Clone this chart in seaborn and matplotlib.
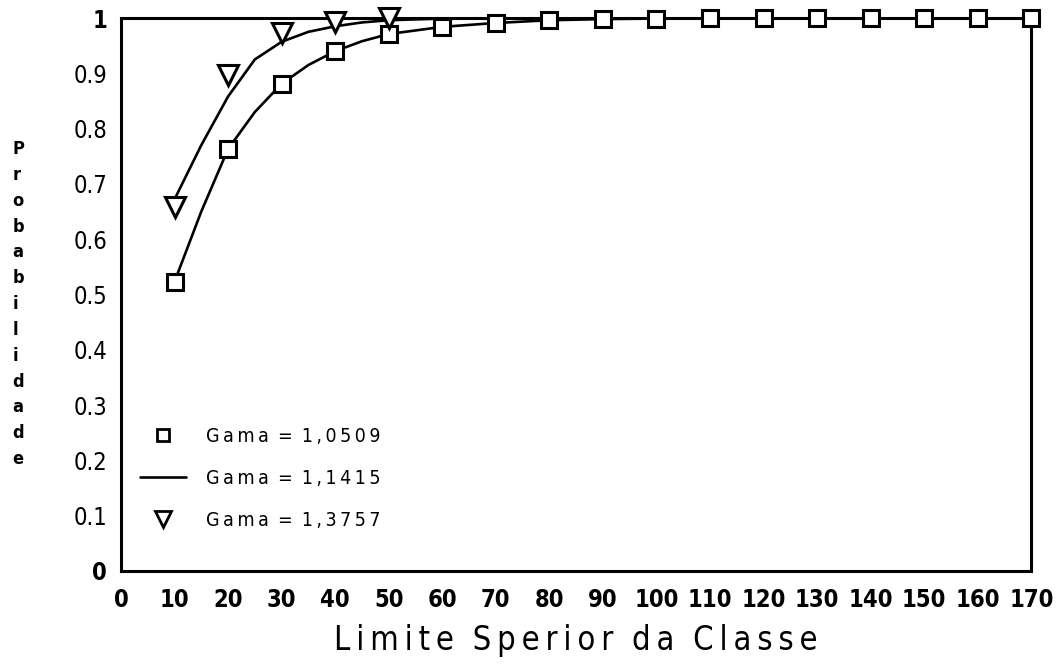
import matplotlib
matplotlib.use("Agg")
import matplotlib.pyplot as plt
import seaborn as sns
import pandas as pd
from matplotlib.lines import Line2D

# class upper limits and probabilities
x_classes = [10, 20, 30, 40, 50, 60, 70, 80, 90, 100, 110, 120, 130, 140, 150, 160, 170]
p_gama_10509 = [0.523, 0.763, 0.881, 0.940, 0.971, 0.984, 0.991, 0.996, 0.998, 0.999,
                1.0, 1.0, 1.0, 1.0, 1.0, 1.0, 1.0]

x_tri = [10, 20, 30, 40, 50]
p_gama_13757 = [0.658, 0.897, 0.973, 0.993, 1.0]

# smooth curves, read at 5-unit steps
x_curve = [10, 15, 20, 25, 30, 35, 40, 45, 50, 60, 70, 80, 90, 100, 110, 120, 130, 140, 150, 160, 170]
curve_sq = [0.523, 0.650, 0.763, 0.830, 0.881, 0.915, 0.940, 0.958, 0.971, 0.984, 0.991, 0.996,
            0.998, 0.999, 1.0, 1.0, 1.0, 1.0, 1.0, 1.0, 1.0]
curve_11415 = [0.672, 0.770, 0.858, 0.925, 0.957, 0.975, 0.985, 0.992, 0.996, 0.999, 1.0, 1.0,
               1.0, 1.0, 1.0, 1.0, 1.0, 1.0, 1.0, 1.0, 1.0]

y_ticks = [0, 0.1, 0.2, 0.3, 0.4, 0.5, 0.6, 0.7, 0.8, 0.9, 1]
y_labels = ["0", "0.1", "0.2", "0.3", "0.4", "0.5", "0.6", "0.7", "0.8", "0.9", "1"]
x_ticks = list(range(0, 180, 10))
legend_labels = ["Gama = 1,0509", "Gama = 1,1415", "Gama = 1,3757"]
x_title = "Limite Sperior da Classe"
y_title = "Probabilidade"

df_sq = pd.DataFrame({"x": x_classes, "p": p_gama_10509})
df_tri = pd.DataFrame({"x": x_tri, "p": p_gama_13757})
df_c1 = pd.DataFrame({"x": x_curve, "p": curve_sq})
df_c2 = pd.DataFrame({"x": x_curve, "p": curve_11415})

sns.set_theme(style="white")
plt.rcParams["font.family"] = ["DejaVu Sans"]
plt.rcParams["font.stretch"] = "condensed"
plt.rcParams["text.color"] = "black"

TS = "\u2009"  # thin space to imitate the letter spacing


def spaced(s):
    return TS.join(s)


fig = plt.figure(figsize=(10.61, 6.67), dpi=100)
ax = fig.add_axes([0.114, 0.144, 0.858, 0.829])

lw = 1.9
sns.lineplot(data=df_c1, x="x", y="p", ax=ax, color="black", linewidth=lw)
sns.lineplot(data=df_c2, x="x", y="p", ax=ax, color="black", linewidth=lw)
ax.plot(df_sq["x"], df_sq["p"], linestyle="none", marker="s", markersize=11,
        markerfacecolor="white", markeredgecolor="black", markeredgewidth=2.2, zorder=5,
        clip_on=False)
ax.plot(df_tri["x"], df_tri["p"], linestyle="none", marker="v", markersize=15,
        markerfacecolor="white", markeredgecolor="black", markeredgewidth=2.2, zorder=5,
        clip_on=False)

ax.set_xlim(0, 170)
ax.set_ylim(0, 1)
ax.set_xticks(x_ticks)
ax.set_xticklabels([str(t) for t in x_ticks], fontsize=17, fontweight="bold", color="black")
ax.set_yticks(y_ticks)
ax.set_yticklabels(y_labels, fontsize=17, color="black")
yl = ax.get_yticklabels()
yl[0].set_fontweight("bold")
yl[-1].set_fontweight("bold")
ax.tick_params(axis="both", direction="in", length=10, width=2, colors="black")
ax.tick_params(axis="x", pad=12)
ax.tick_params(axis="y", pad=10)
for s in ax.spines.values():
    s.set_color("black")
    s.set_linewidth(2.2)

ax.set_xlabel("  ".join(spaced(w) for w in x_title.split(" ")), fontsize=23.5,
              color="black", labelpad=9)
ax.set_ylabel("")

fig.text(0.012, 0.79, "\n".join(y_title), fontsize=13, fontweight="bold",
         va="top", ha="left", linespacing=1.56, color="black")

handles = [
    Line2D([], [], linestyle="none", marker="s", markersize=9, markerfacecolor="white",
           markeredgecolor="black", markeredgewidth=2),
    Line2D([], [], color="black", linewidth=lw),
    Line2D([], [], linestyle="none", marker="v", markersize=12, markerfacecolor="white",
           markeredgecolor="black", markeredgewidth=2),
]
leg_text = [spaced(t.replace(" ", "")).replace("=", " = ") for t in legend_labels]
ax.legend(handles, leg_text, loc="lower left", bbox_to_anchor=(0.012, 0.06),
          borderaxespad=0, frameon=False, fontsize=14, handlelength=2.4,
          labelspacing=1.18, handletextpad=1.0, labelcolor="black")

fig.savefig("out.png", dpi=100)
